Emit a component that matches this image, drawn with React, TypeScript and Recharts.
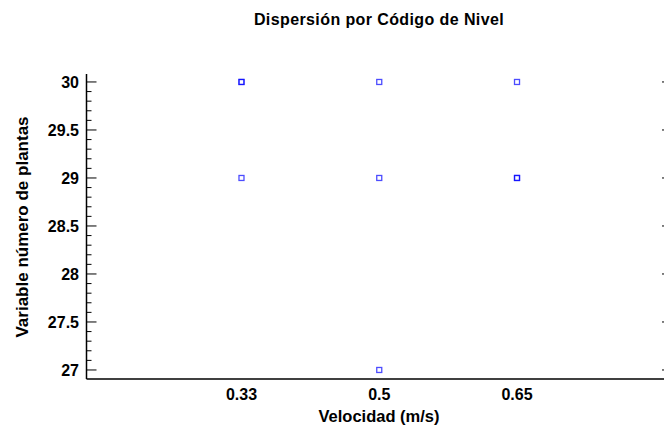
import React from "react";
import { ScatterChart, Scatter, XAxis, YAxis } from "recharts";

const categories = ["0.33", "0.5", "0.65"];
const plantas033 = [30, 30, 29];
const plantas05 = [30, 29, 27];
const plantas065 = [30, 29, 29];
const yMajorTicks = [27, 27.5, 28, 28.5, 29, 29.5, 30];
const yAllTicks = Array.from({ length: 31 }, (_, i) => Math.round((27 + i * 0.1) * 10) / 10);

const series = [plantas033, plantas05, plantas065];
const points = series.flatMap((vals, i) => vals.map((v) => ({ x: i, y: v })));

const FONT = '"Liberation Sans", Arial, sans-serif';
const X_DOMAIN = [-1.125, 3.125];
const Y_DOMAIN = [26.906, 30.083];

const isMajor = (v: number) => yMajorTicks.some((t) => Math.abs(t - v) < 1e-6);

const LeftTick = (props: any) => {
  const { x, y, payload } = props;
  const v = payload.value;
  const major = isMajor(v);
  const ax = x + 7.5;
  return (
    <g>
      <line x1={ax} x2={ax + (major ? 10 : 5)} y1={y} y2={y} stroke="#000" strokeWidth={1} />
      {major && (
        <text x={x} y={y} dy="0.36em" textAnchor="end" fill="#000" fontSize={16} fontWeight="bold" fontFamily={FONT}>
          {String(v)}
        </text>
      )}
    </g>
  );
};

const RightTick = (props: any) => {
  const { x, y } = props;
  return <line x1={x} x2={x - 10} y1={y} y2={y} stroke="#000" strokeWidth={1} />;
};

// semi-opaque stroke so repeated observations show up darker, like the original
const Square = (props: any) => {
  const { cx, cy } = props;
  return (
    <rect
      x={cx - 2.5}
      y={cy - 2.5}
      width={5}
      height={5}
      fill="none"
      stroke="#0000ff"
      strokeOpacity={0.7}
      strokeWidth={1.3}
    />
  );
};

const textBase: React.CSSProperties = {
  position: "absolute",
  fontFamily: FONT,
  fontWeight: "bold",
  color: "#000",
  whiteSpace: "nowrap",
  lineHeight: 1,
  transform: "translate(-50%, -50%)",
};

export default function App() {
  return (
    <div
      style={{
        position: "fixed",
        left: 0,
        top: 0,
        width: 664,
        height: 426,
        overflow: "hidden",
        background: "#fff",
      }}
    >
      <ScatterChart width={692} height={426} margin={{ top: 74, right: 0, bottom: 0, left: 0 }}>
        <XAxis
          xAxisId={0}
          type="number"
          dataKey="x"
          domain={X_DOMAIN}
          allowDataOverflow
          ticks={[0, 1, 2]}
          interval={0}
          tickFormatter={(i: number) => categories[i]}
          tickLine={false}
          tickSize={0}
          tickMargin={10}
          height={47}
          axisLine={{ stroke: "#000", strokeWidth: 1.5 }}
          tick={{ fill: "#000", fontSize: 16, fontWeight: "bold", fontFamily: FONT }}
        />
        <XAxis
          xAxisId="top"
          orientation="top"
          type="number"
          domain={X_DOMAIN}
          allowDataOverflow
          height={0}
          tick={false}
          tickLine={false}
          axisLine={{ stroke: "#000", strokeWidth: 1.5 }}
        />
        <YAxis
          yAxisId={0}
          type="number"
          dataKey="y"
          domain={Y_DOMAIN}
          allowDataOverflow
          ticks={yAllTicks}
          interval={0}
          width={86.5}
          tickLine={false}
          tickSize={0}
          tickMargin={7.5}
          axisLine={{ stroke: "#000", strokeWidth: 1.5 }}
          tick={<LeftTick />}
        />
        <YAxis
          yAxisId="right"
          orientation="right"
          type="number"
          domain={Y_DOMAIN}
          allowDataOverflow
          ticks={yMajorTicks}
          interval={0}
          width={20}
          tickLine={false}
          tickSize={0}
          tickMargin={0}
          axisLine={{ stroke: "#000", strokeWidth: 1.5 }}
          tick={<RightTick />}
        />
        <Scatter
          data={points}
          xAxisId={0}
          yAxisId={0}
          shape={<Square />}
          isAnimationActive={false}
        />
      </ScatterChart>
      <div style={{ ...textBase, left: 379, top: 19.5, fontSize: 16, letterSpacing: 0.4 }}>
        Dispersión por Código de Nivel
      </div>
      <div style={{ ...textBase, left: 379, top: 416, fontSize: 16.5 }}>Velocidad (m/s)</div>
      <div style={{ ...textBase, left: 22, top: 226.5, fontSize: 17, transform: "translate(-50%, -50%) rotate(-90deg)" }}>
        Variable número de plantas
      </div>
    </div>
  );
}
